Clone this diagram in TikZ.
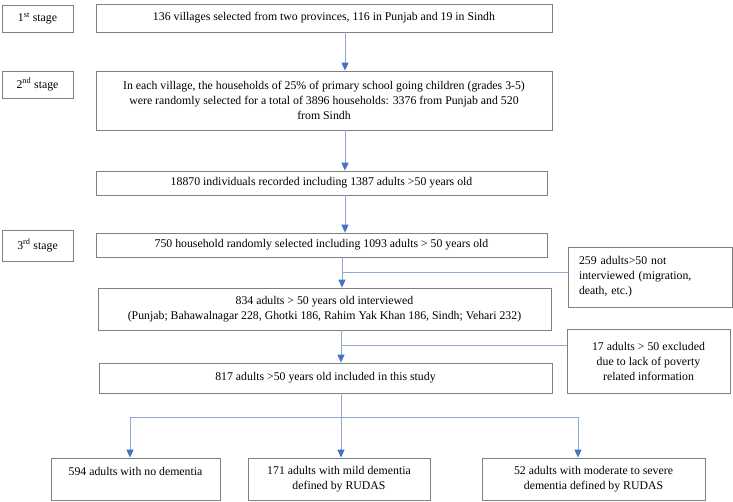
\documentclass[tikz,border=0pt]{standalone}
\usepackage{fontspec}
\setmainfont{Liberation Serif}
\usepackage{xcolor}
\usepackage{tikz}
\usetikzlibrary{arrows.meta,positioning,calc}

\definecolor{boxgray}{HTML}{7F7F7F}
\definecolor{linkblue}{HTML}{8FA8D4}
\definecolor{tipblue}{HTML}{4472C4}

\begin{document}
\begin{tikzpicture}[x=1pt, y=-1pt,
    box/.style={draw=boxgray, line width=0.8pt, inner sep=0pt, align=center,
      font=\fontsize{11.8}{15}\selectfont},
    link/.style={draw=linkblue, line width=0.9pt},
    arr/.style={link, -{Triangle[width=7pt,length=8pt,color=tipblue]}}]
  \useasboundingbox (0,0) rectangle (733,502);

  % Stage labels
  \node[box, minimum width=71, minimum height=27] (st1) at (37.5,18.5) {1\textsuperscript{st} stage};
  \node[box, minimum width=71, minimum height=27] (st2) at (37.5,84.5) {2\textsuperscript{nd} stage};
  \node[box, minimum width=71, minimum height=31] (st3) at (37.5,245.5) {3\textsuperscript{rd} stage};

  % Main column
  \node[box, minimum width=456, minimum height=28] (villages) at (324,18)
    {136 villages selected from two provinces, 116 in Punjab and 19 in Sindh};
  \node[box, minimum width=456, minimum height=59] (households) at (324,100.5)
    {In each village, the households of 25\% of primary school going children (grades 3-5)\\
     were randomly selected for a total of 3896 households: 3376 from Punjab and 520\\
     from Sindh};
  \node[box, minimum width=451, minimum height=24] (recorded) at (321.5,183)
    {18870 individuals recorded including 1387 adults >50 years old};
  \node[box, minimum width=451, minimum height=24] (selected) at (321.5,245)
    {750 household randomly selected including 1093 adults > 50 years old};
  \node[box, minimum width=453, minimum height=42] (interviewed) at (324.5,309)
    {834 adults > 50 years old interviewed\\
     (Punjab; Bahawalnagar 228, Ghotki 186, Rahim Yak Khan 186, Sindh; Vehari 232)};
  \node[box, minimum width=453, minimum height=30] (included) at (325.5,378)
    {817 adults >50 years old included in this study};

  % Exclusions
  \node[box, text width=142, inner xsep=11, minimum height=60, align=left] (notint) at (650,277)
    {259 adults>50 not\\ interviewed (migration,\\ death, etc.)};
  \node[box, minimum width=163, minimum height=64] (excluded) at (648.5,361)
    {17 adults > 50 excluded\\ due to lack of poverty\\ related information};

  % Outcome groups
  \node[box, minimum width=169, minimum height=42] (nodem) at (135.5,479)
    {594 adults with no dementia\\ ~};
  \node[box, minimum width=182, minimum height=42] (milddem) at (339,479)
    {171 adults with mild dementia\\ defined by RUDAS};
  \node[box, minimum width=223, minimum height=42] (sevdem) at (593.5,479)
    {52 adults with moderate to severe\\ dementia defined by RUDAS};

  % Junctions
  \coordinate (j1) at (342,272);
  \coordinate (j2) at (341,345);
  \coordinate (j3) at (341,417);

  % Arrows down the main column
  \draw[arr] ([xshift=21]villages.south) -- ([xshift=21]households.north);
  \draw[arr] ([xshift=21]households.south) -- ([xshift=23.5]recorded.north);
  \draw[arr] ([xshift=23.5]recorded.south) -- ([xshift=23.5]selected.north);
  \draw[arr] (selected.south -| j1) -- (interviewed.north -| j1);
  \draw[link] (j1) -- (notint.west |- j1);
  \draw[arr] (interviewed.south -| j2) -- (included.north -| j2);
  \draw[link] (j2) -- (excluded.west |- j2);

  % Split into groups
  \draw[link] (included.south -| j3) -- (j3);
  \draw[arr] (j3) -| ([xshift=-5.5]nodem.north);
  \draw[arr] (j3) -- (milddem.north -| j3);
  \draw[arr] (j3) -| ([xshift=-15.5]sevdem.north);
\end{tikzpicture}
\end{document}
